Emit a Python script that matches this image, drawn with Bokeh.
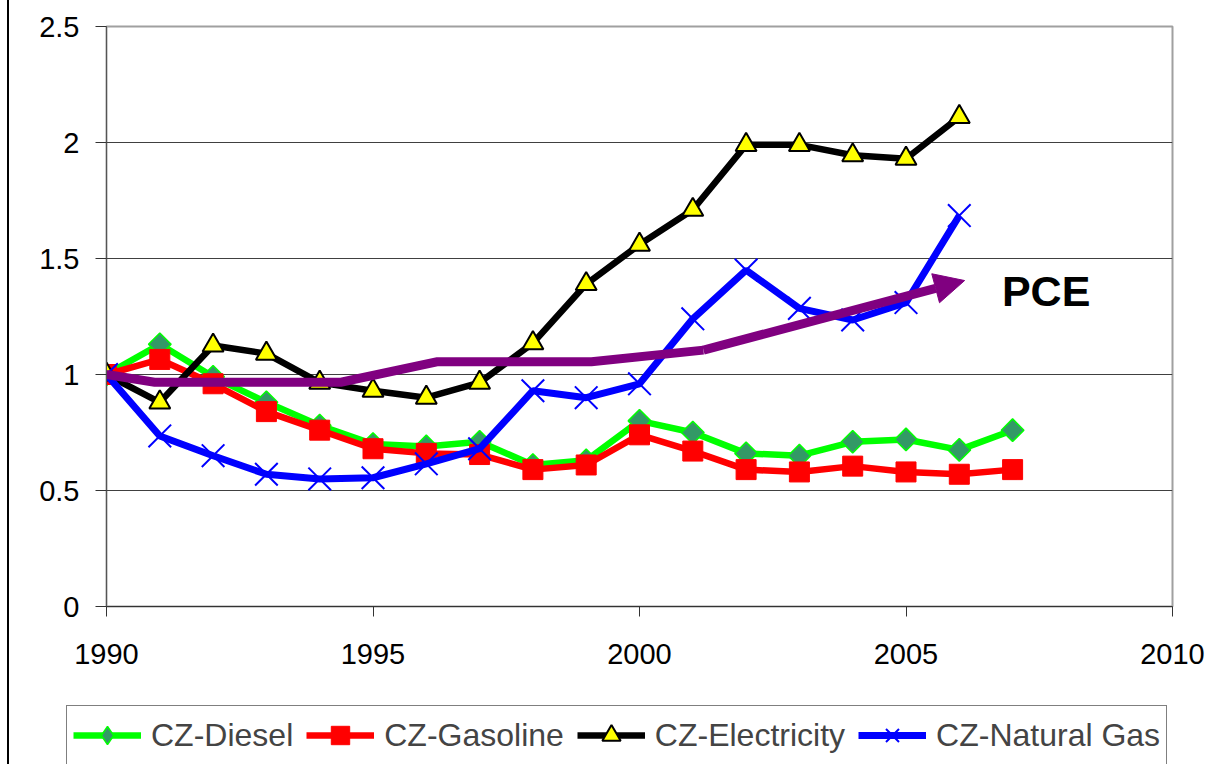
import numpy as np
from bokeh.plotting import figure
from bokeh.layouts import column
from bokeh.models import (FixedTicker, Legend, LegendItem, Arrow, NormalHead,
                          Label, Range1d)
from bokeh.embed import file_html
from bokeh.resources import INLINE

# ---------------- data ----------------
years_long = [1990, 1991, 1992, 1993, 1994, 1995, 1996, 1997, 1998, 1999,
              2000, 2001, 2002, 2003, 2004, 2005, 2006, 2007]
years_short = years_long[:17]

diesel = [1.00, 1.13, 0.99, 0.88, 0.78, 0.70, 0.69, 0.71, 0.61, 0.63,
          0.80, 0.75, 0.66, 0.65, 0.71, 0.72, 0.675, 0.76]
gasoline = [1.00, 1.065, 0.96, 0.84, 0.76, 0.68, 0.66, 0.655, 0.59, 0.61,
            0.74, 0.67, 0.59, 0.58, 0.605, 0.58, 0.57, 0.59]
electricity = [1.00, 0.88, 1.125, 1.09, 0.965, 0.93, 0.90, 0.965, 1.135, 1.39,
               1.56, 1.71, 1.99, 1.99, 1.945, 1.93, 2.11]
natural_gas = [1.00, 0.735, 0.65, 0.57, 0.55, 0.555, 0.615, 0.68, 0.93, 0.90,
               0.96, 1.24, 1.45, 1.285, 1.235, 1.31, 1.685]

pce_x = [1990, 1990.9, 1994.4, 1996.2, 1999.1, 2001.2, 2006.1]
pce_y = [1.00, 0.967, 0.967, 1.055, 1.055, 1.105, 1.405]

series_labels = ["CZ-Diesel", "CZ-Gasoline", "CZ-Electricity", "CZ-Natural Gas"]
x_ticks = [1990, 1995, 2000, 2005, 2010]
y_ticks = [0, 0.5, 1, 1.5, 2, 2.5]
y_tick_labels = ["0", "0.5", "1", "1.5", "2", "2.5"]

FONT = "Liberation Sans"

# series styles (line + marker); "lmarker" is the marker used in the legend
STYLES = [
    dict(line_color="#00ff00", line_width=6.5, marker="square", lmarker="diamond",
         angle=np.pi / 4, size=16, fill_color="#339966", mline="#00ff00", mwidth=1.5),
    dict(line_color="#ff0000", line_width=6.5, marker="square", lmarker="square",
         angle=0, size=20, fill_color="#ff0000", mline="#ff0000", mwidth=1),
    dict(line_color="black", line_width=6.5, marker="triangle", lmarker="triangle",
         angle=0, size=21, fill_color="#ffff00", mline="black", mwidth=2),
    dict(line_color="#0000ff", line_width=7, marker="x", lmarker="x",
         angle=0, size=32, fill_color=None, mline="#0000ff", mwidth=2),
]
SERIES = [(years_long, diesel), (years_long, gasoline),
          (years_short, electricity), (years_short, natural_gas)]


def add_series(fig, xs, ys, st, marker_key="marker", angle=True):
    rl = fig.line(xs, ys, line_color=st["line_color"], line_width=st["line_width"])
    rm = fig.scatter(xs, ys, marker=st[marker_key], angle=st["angle"] if angle else 0,
                     size=st["size"], fill_color=st["fill_color"],
                     line_color=st["mline"], line_width=st["mwidth"])
    return rl, rm


# ---------------- main chart ----------------
p = figure(width=1221, height=690, output_backend="svg", toolbar_location=None,
           x_range=Range1d(1990, 2010), y_range=Range1d(0, 2.5))
p.min_border_left = 97
p.min_border_right = 58
p.min_border_top = 26
p.min_border_bottom = 84
p.background_fill_color = "white"
p.border_fill_color = "white"
p.outline_line_color = "#a0a0a0"
p.outline_line_width = 2

p.xaxis.ticker = FixedTicker(ticks=x_ticks)
p.yaxis.ticker = FixedTicker(ticks=y_ticks)
p.yaxis.major_label_overrides = {t: s for t, s in zip(y_ticks, y_tick_labels)}
for ax in (p.xaxis[0], p.yaxis[0]):
    ax.minor_tick_line_color = None
    ax.major_label_text_font = FONT
    ax.major_label_text_font_size = "29px"
    ax.major_label_text_color = "black"
p.xaxis.axis_line_color = "#333333"
p.xaxis.major_tick_line_color = "#333333"
p.xaxis.major_tick_out = 10
p.xaxis.major_tick_in = 0
p.xaxis.major_label_standoff = 27
p.yaxis.axis_line_color = "#555555"
p.yaxis.major_tick_line_color = "#333333"
p.yaxis.major_tick_out = 11
p.yaxis.major_tick_in = 0
p.yaxis.major_label_standoff = 16

p.xgrid.grid_line_color = None
p.ygrid.grid_line_color = "#404040"
p.ygrid.grid_line_width = 1

for (xs, ys), st in zip(SERIES, STYLES):
    add_series(p, xs, ys, st)

# PCE polyline with arrow on the last segment
p.line(pce_x[:-1], pce_y[:-1], line_color="#800080", line_width=9, line_join="miter")
p.add_layout(Arrow(end=NormalHead(size=30, fill_color="#800080", line_color="#800080"),
                   x_start=pce_x[-2], y_start=pce_y[-2],
                   x_end=pce_x[-1], y_end=pce_y[-1],
                   line_color="#800080", line_width=9))
p.add_layout(Label(x=2006.8, y=1.36, text="PCE", text_font=FONT,
                   text_font_size="43px", text_font_style="bold",
                   text_color="black", text_baseline="middle", text_align="left"))

# ---------------- legend strip ----------------
q = figure(width=1221, height=74, output_backend="svg", toolbar_location=None,
           x_range=Range1d(0, 1), y_range=Range1d(0, 1))
q.axis.visible = False
q.grid.visible = False
q.outline_line_color = None
q.min_border_left = 0
q.min_border_right = 0
q.min_border_top = 0
q.min_border_bottom = 0
q.border_fill_color = "white"
q.background_fill_color = "white"

for fig in (p, q):
    if "frame_align" in fig.properties():
        fig.frame_align = False

items = []
for (xs, ys), st, lab in zip(SERIES, STYLES, series_labels):
    # drawn off-range, used only for legend glyphs
    rl, rm = add_series(q, xs, ys, st, marker_key="lmarker", angle=False)
    items.append(LegendItem(label=lab, renderers=[rl, rm]))

legend = Legend(items=items, orientation="horizontal", location=(57, -1),
                glyph_width=68, glyph_height=46, label_standoff=10, spacing=13,
                padding=6, margin=0,
                label_text_font=FONT, label_text_font_size="32px",
                border_line_color="black", border_line_width=1,
                background_fill_color="white", background_fill_alpha=1)
q.add_layout(legend, "center")

layout = column(p, q, spacing=0)
layout.styles = {"margin-left": "7px", "border-left": "2px solid black"}

open("out.html", "w").write(file_html(layout, INLINE))
